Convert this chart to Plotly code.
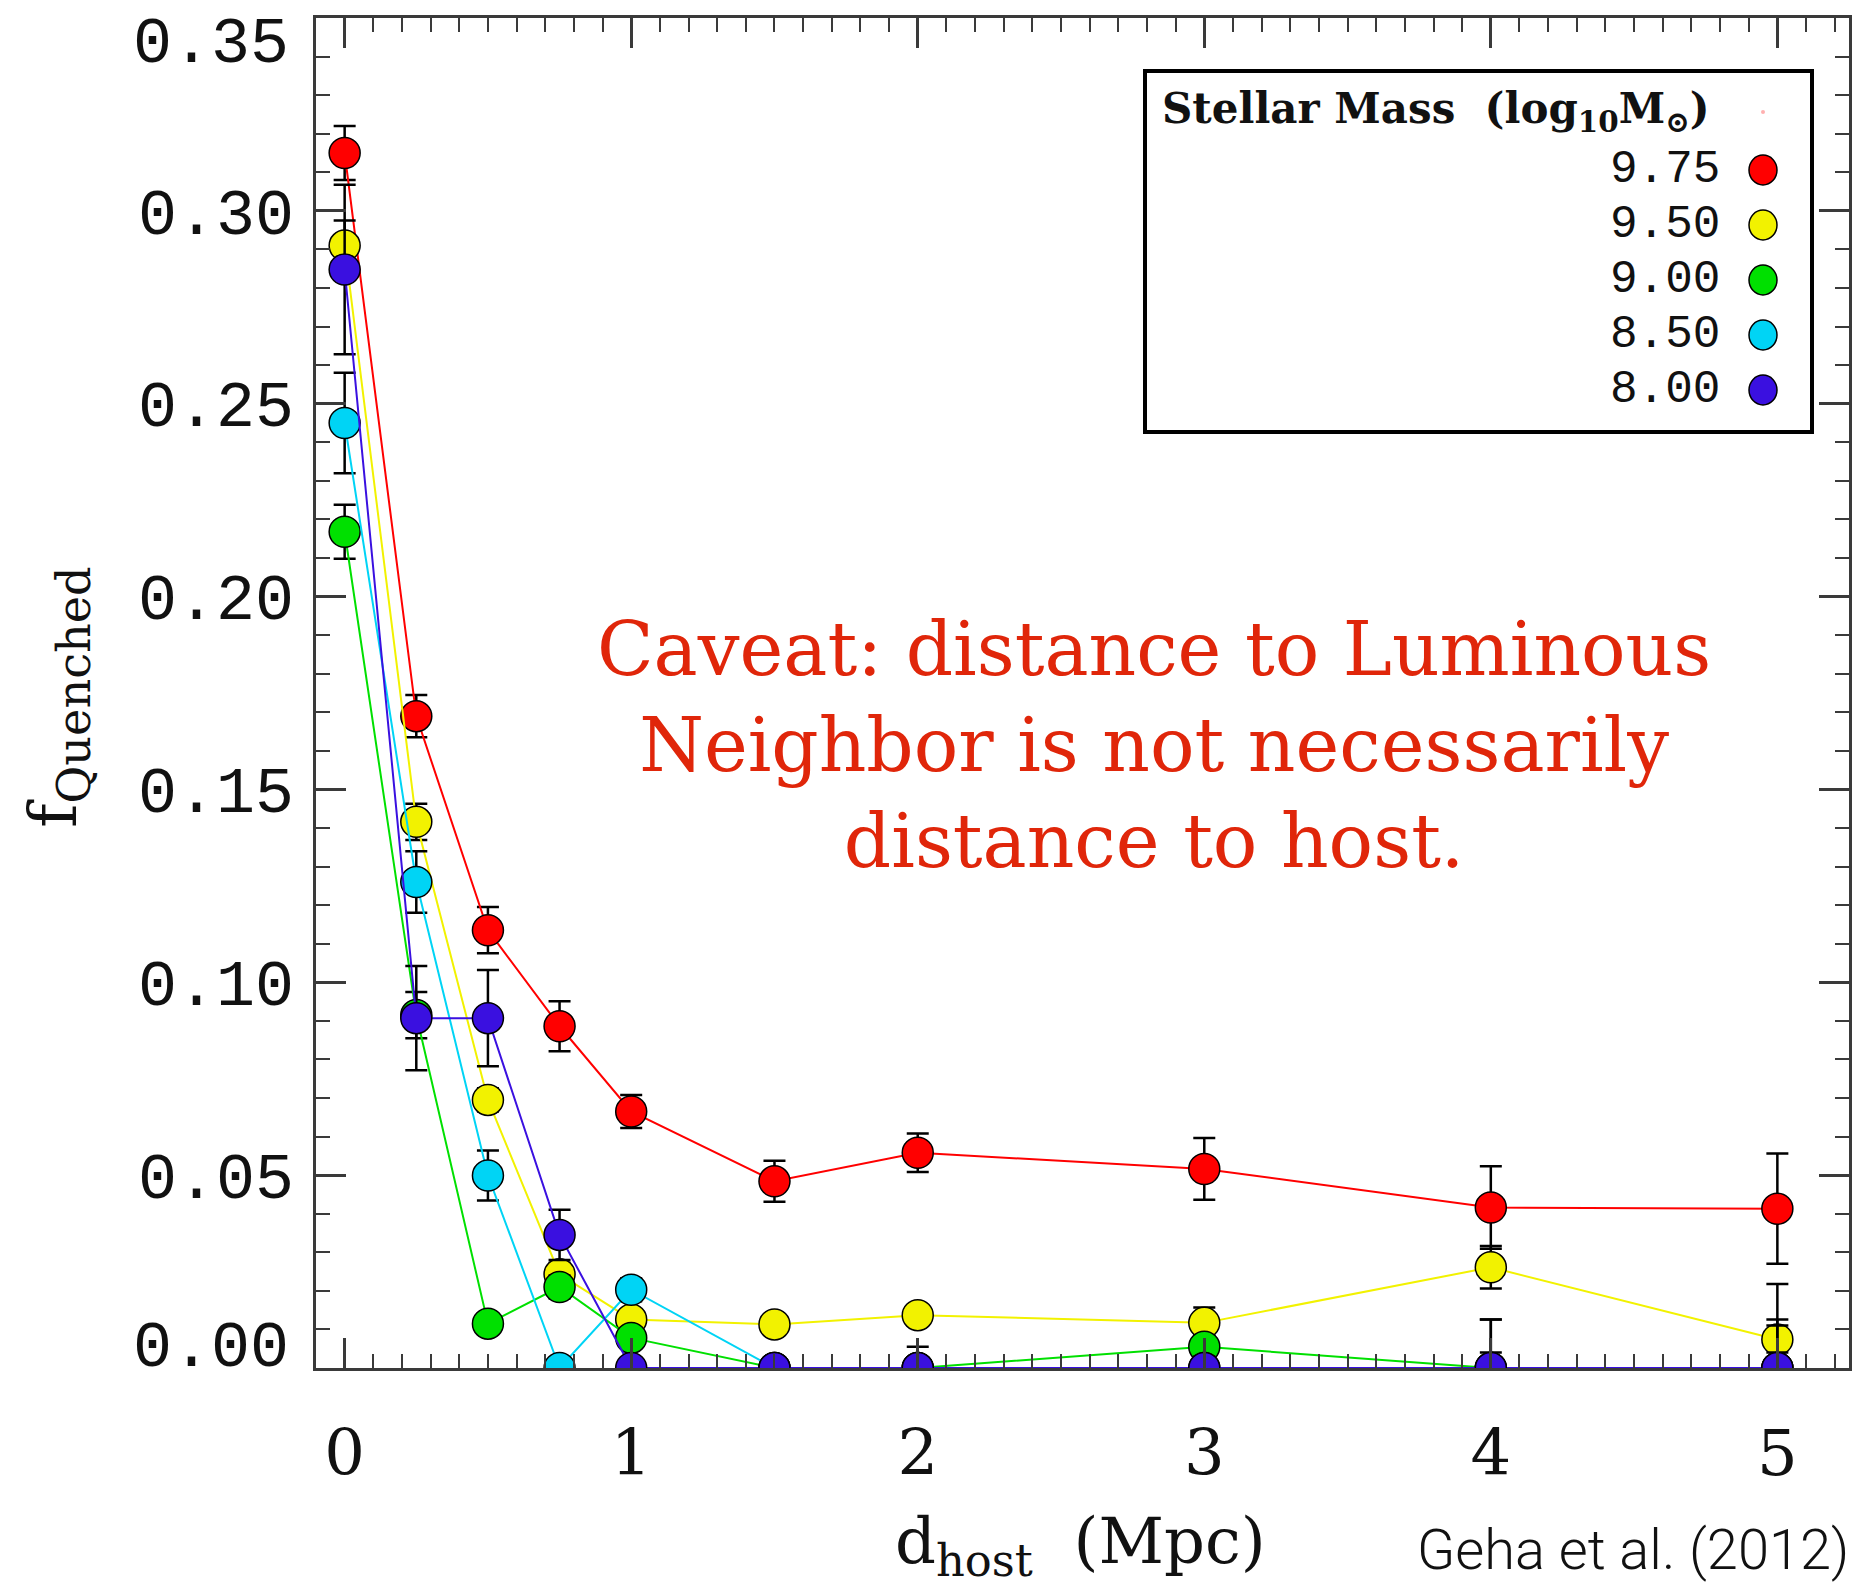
import plotly.graph_objects as go

# ---------------- data ----------------
d_host = [0, 0.25, 0.5, 0.75, 1, 1.5, 2, 3, 4, 5]

mass_labels = ["9.75", "9.50", "9.00", "8.50", "8.00"]
colors = ["#ff0000", "#f2f200", "#00e000", "#00d4f5", "#3a10e0"]

f_975 = [0.315, 0.169, 0.1135, 0.0886, 0.0665, 0.0484, 0.0558, 0.0516, 0.0416, 0.0413]
e_975 = [0.007, 0.0055, 0.006, 0.0065, 0.0043, 0.0053, 0.005, 0.008, 0.0107, 0.0143]

f_950 = [0.291, 0.1416, 0.0695, 0.0243, 0.0126, 0.0113, 0.0137, 0.0117, 0.0261, 0.0074]
e_950 = [0.0065, 0.0047, 0.003, 0.003, 0.002, 0.002, 0.002, 0.004, 0.0055, 0.0144]

f_900 = [0.2168, 0.0915, 0.0115, 0.021, 0.0078, 0.0, 0.0, 0.0055, 0.0, 0.0]
e_900 = [0.007, 0.006, 0.002, 0.003, 0.002, 0.0, 0.0, 0.003, 0.004, 0.004]

f_850 = [0.245, 0.126, 0.0499, 0.0, 0.0203, 0.0, 0.0, 0.0, 0.0, 0.0]
e_850 = [0.013, 0.008, 0.0065, 0.0, 0.003, 0.0, 0.0, 0.0, 0.0126, 0.011]

f_800 = [0.2848, 0.0907, 0.0907, 0.0345, 0.0, 0.0, 0.0, 0.0, 0.0, 0.0]
e_800 = [0.022, 0.0135, 0.0125, 0.0065, 0.0, 0.0, 0.0055, 0.003, 0.0126, 0.0126]

values = [f_975, f_950, f_900, f_850, f_800]
errors = [e_975, e_950, e_900, e_850, e_800]

x_ticks = [0, 1, 2, 3, 4, 5]
y_ticks = [0.00, 0.05, 0.10, 0.15, 0.20, 0.25, 0.30, 0.35]
y_ticklabels = ["0.00", "0.05", "0.10", "0.15", "0.20", "0.25", "0.30", "0.35"]

# ---------------- figure ----------------
fig = go.Figure()
axis_col = "#3a3a3a"
tick_font = dict(family="Liberation Mono", size=65, color="#111111")

for lab, col, v, e in zip(mass_labels, colors, values, errors):
    fig.add_trace(go.Scatter(
        x=d_host, y=v, mode="lines+markers", name=lab,
        line=dict(color=col, width=2),
        marker=dict(size=31, color=col, line=dict(color="black", width=1.5)),
        error_y=dict(type="data", array=e, visible=True, color="black",
                     thickness=2.5, width=11),
        showlegend=False,
    ))

# end labels (0.00 and 0.35) sit on the frame corners and are nudged inward as in
# the original, so they are drawn separately as annotations
inner_vals = y_ticks[1:-1]
inner_text = y_ticklabels[1:-1]

fig.update_xaxes(
    range=[-0.1, 5.25], tickmode="array", tickvals=x_ticks,
    ticktext=[str(t) for t in x_ticks],
    ticks="inside", ticklen=30, tickwidth=2.5, tickcolor=axis_col,
    minor=dict(dtick=0.1, tick0=0, ticks="inside", ticklen=14, tickwidth=2, tickcolor=axis_col),
    showline=True, linecolor=axis_col, linewidth=3, mirror="allticks",
    showgrid=False, zeroline=False,
    tickfont=dict(family="DejaVu Serif", size=64, color="#111111"),
    ticklabelstandoff=27,
)
fig.update_yaxes(
    range=[0, 0.35], tickmode="array", tickvals=inner_vals, ticktext=inner_text,
    ticks="inside", ticklen=30, tickwidth=2.5, tickcolor=axis_col,
    minor=dict(dtick=0.01, tick0=0, ticks="inside", ticklen=14, tickwidth=2, tickcolor=axis_col),
    showline=True, linecolor=axis_col, linewidth=3, mirror="allticks",
    showgrid=False, zeroline=False,
    tickfont=tick_font,
    ticklabelstandoff=6,
)

W, H = 1855, 1586
L, R, T, B = 316, 6, 18, 218
pw, ph = W - L - R, H - T - B

def px(x):
    return (x - L) / pw

def py(y):
    return (H - B - y) / ph

annotations = []
# nudged end tick labels
annotations.append(dict(text=y_ticklabels[-1], x=px(291), y=py(45), xref="paper", yref="paper",
                        showarrow=False, xanchor="right", yanchor="middle", font=tick_font))
annotations.append(dict(text=y_ticklabels[0], x=px(291), y=py(1349), xref="paper", yref="paper",
                        showarrow=False, xanchor="right", yanchor="middle", font=tick_font))
# axis titles
annotations.append(dict(
    text="d<sub>host</sub>  (Mpc)", x=px(1080), y=py(1545), xref="paper", yref="paper",
    showarrow=False, xanchor="center", yanchor="middle",
    font=dict(family="DejaVu Serif", size=64, color="#111111")))
annotations.append(dict(
    text="f<sub>Quenched</sub>", x=px(58), y=py(697), xref="paper", yref="paper",
    showarrow=False, xanchor="center", yanchor="middle", textangle=-90,
    font=dict(family="DejaVu Serif", size=66, color="#111111")))
# caveat
annotations.append(dict(
    text="Caveat: distance to Luminous<br>Neighbor is not necessarily<br>distance to host.",
    x=px(1154), y=py(745), xref="paper", yref="paper", showarrow=False,
    xanchor="center", yanchor="middle", align="center",
    font=dict(family="DejaVu Serif", size=74, color="#e0260a")))
# credit
annotations.append(dict(
    text="Geha et al. (2012)", x=px(1851), y=py(1550), xref="paper", yref="paper",
    showarrow=False, xanchor="right", yanchor="middle",
    font=dict(family="Roboto", size=56, color="#111111", weight=300)))

# legend box
shapes = [dict(type="rect", xref="paper", yref="paper",
               x0=px(1145), x1=px(1812), y0=py(432), y1=py(71),
               line=dict(color="black", width=4), fillcolor="white", layer="above")]
annotations.append(dict(
    text="Stellar Mass  (log<sub>10</sub>M<sub>⊙</sub>)", x=px(1160), y=py(112),
    xref="paper", yref="paper", showarrow=False, xanchor="left", yanchor="middle",
    font=dict(family="DejaVu Serif", size=42, color="#111111", weight="bold")))
shapes.append(dict(type="circle", xref="paper", yref="paper", xsizemode="pixel", ysizemode="pixel",
                   xanchor=px(1763), yanchor=py(112), x0=-2, x1=2, y0=-2, y1=2,
                   fillcolor="#ffb0b0", line=dict(width=0), layer="above"))
row_y = [170, 225, 280, 335, 390]
for lab, col, ry in zip(mass_labels, colors, row_y):
    annotations.append(dict(
        text=lab, x=px(1722), y=py(ry), xref="paper", yref="paper", showarrow=False,
        xanchor="right", yanchor="middle",
        font=dict(family="Liberation Mono", size=46, color="#111111")))
    shapes.append(dict(type="circle", xref="paper", yref="paper", xsizemode="pixel", ysizemode="pixel",
                       xanchor=px(1763), yanchor=py(ry), x0=-14, x1=14, y0=-15, y1=15,
                       fillcolor=col, line=dict(color="black", width=1.5), layer="above"))

fig.update_layout(
    width=W, height=H,
    margin=dict(l=L, r=R, t=T, b=B, autoexpand=False),
    paper_bgcolor="white", plot_bgcolor="white",
    annotations=annotations, shapes=shapes,
    showlegend=False,
)

fig.write_html("out.html")
